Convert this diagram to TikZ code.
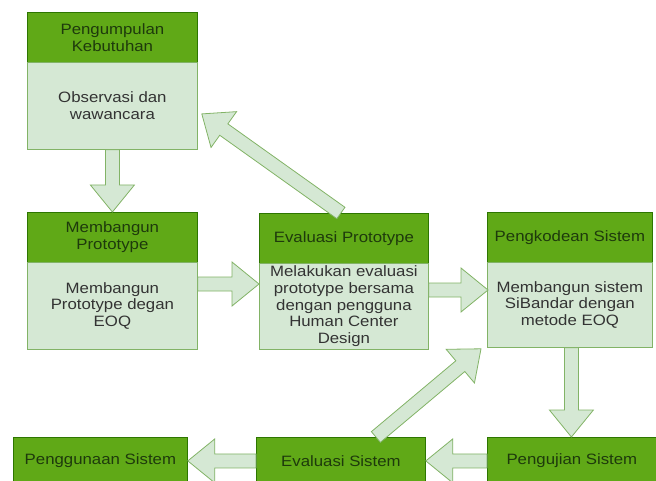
\documentclass[tikz,border=0pt]{standalone}
\usepackage{fontspec}
\setmainfont{Liberation Sans}[FakeStretch=1.12]
\usetikzlibrary{calc}
\definecolor{hdfill}{HTML}{60A917}
\definecolor{hdline}{HTML}{2D7600}
\definecolor{hdtext}{HTML}{1E3A0C}
\definecolor{bdfill}{HTML}{D5E8D4}
\definecolor{bdline}{HTML}{82B366}
\definecolor{bdtext}{HTML}{333333}
\tikzset{
  hdbox/.style={draw=hdline, fill=hdfill, text=hdtext, anchor=north west, align=center,
    inner sep=2pt, font=\fontsize{15}{16.7}\selectfont, line width=0.8pt},
  bdbox/.style={draw=bdline, fill=bdfill, text=bdtext, anchor=north west, align=center,
    inner sep=2pt, font=\fontsize{15}{16.7}\selectfont, line width=0.8pt},
  barrow/.style={draw=bdline, fill=bdfill, line width=0.8pt, line join=miter}
}
\newcommand\blockarrow[2]{%
  \coordinate (ba-h) at ($(#2)!27pt!(#1)$);
  \draw[barrow] ($(#1)!7pt!90:(#2)$) -- ($(ba-h)!7pt!90:(#2)$) -- ($(ba-h)!22pt!90:(#2)$)
    -- (#2) -- ($(ba-h)!22pt!-90:(#2)$) -- ($(ba-h)!7pt!-90:(#2)$) -- ($(#1)!7pt!-90:(#2)$) -- cycle;
}
\begin{document}
\begin{tikzpicture}[x=1pt, y=-1pt]
\useasboundingbox (0,0) rectangle (656,481);
\clip (0,0) rectangle (656,481);
% box 1
\node[hdbox, minimum width=170pt, minimum height=50pt] (b1head) at (27,12) {Pengumpulan\\Kebutuhan};
\node[bdbox, minimum width=170pt, minimum height=87pt] (b1body) at (27,62) {Observasi dan\\wawancara};
% box 2
\node[hdbox, minimum width=170pt, minimum height=50pt] (b2head) at (27,212) {Membangun\\Prototype};
\node[bdbox, minimum width=170pt, minimum height=87pt] (b2body) at (27,262) {Membangun\\Prototype degan\\EOQ};
% box 3
\node[hdbox, minimum width=169pt, minimum height=50pt] (b3head) at (259,213) {Evaluasi Prototype};
\node[bdbox, minimum width=169pt, minimum height=86pt, inner sep=0pt] (b3body) at (259,263) {Melakukan evaluasi\\prototype bersama\\dengan pengguna\\Human Center\\Design};
% box 4
\node[hdbox, minimum width=165pt, minimum height=50pt] (b4head) at (487,212) {Pengkodean Sistem};
\node[bdbox, minimum width=165pt, minimum height=85pt] (b4body) at (487,262) {Membangun sistem\\SiBandar dengan\\metode EOQ};
% bottom row
\node[hdbox, minimum width=174pt, minimum height=47pt] (pgn) at (13,437) {Penggunaan Sistem};
\node[hdbox, minimum width=169pt, minimum height=47pt] (evs) at (256,437) {Evaluasi Sistem};
\node[hdbox, minimum width=169pt, minimum height=47pt] (peng) at (487,437) {Pengujian Sistem};
% connector end points
\coordinate (a12s) at (b1body.south);
\coordinate (a12e) at (b2head.north);
\coordinate (a23s) at ($(b2body.north east)+(0,22)$);
\coordinate (a23e) at ($(b3body.north west)+(0,21)$);
\coordinate (a34s) at ($(b3body.north east)+(0,27)$);
\coordinate (a34e) at ($(b4body.north west)+(1,28)$);
\coordinate (a4ps) at ($(b4body.south)+(1.5,0)$);
\coordinate (a4pe) at (a4ps |- peng.north);
\coordinate (d1s) at ($(evs.north)+(35,0)$);
\coordinate (d1e) at ($(b4body.south west)+(-6,1)$);
\coordinate (d2s) at ($(b3head.north)+(-3,0)$);
\coordinate (d2e) at ($(b1body.east)+(4,8)$);
% connectors
\blockarrow{a12s}{a12e}
\blockarrow{a23s}{a23e}
\blockarrow{a34s}{a34e}
\blockarrow{a4ps}{a4pe}
\blockarrow{peng.west}{evs.east}
\blockarrow{evs.west}{pgn.east}
\blockarrow{d1s}{d1e}
\blockarrow{d2s}{d2e}
\end{tikzpicture}
\end{document}
